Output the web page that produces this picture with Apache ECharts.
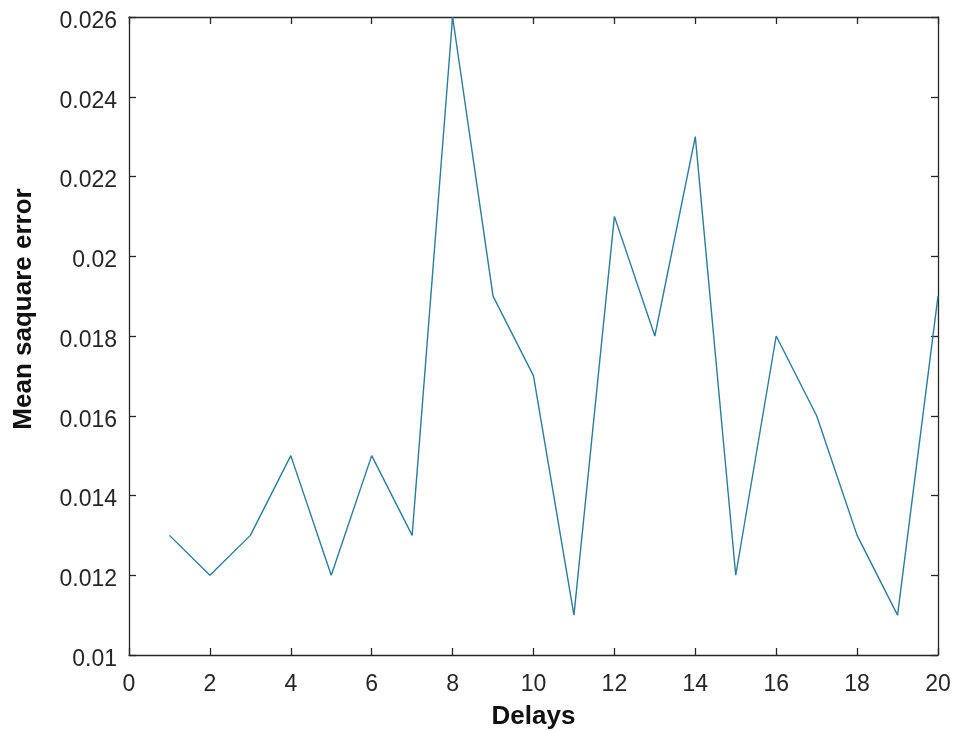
<!DOCTYPE html>
<html lang="en">
  <head>
    <meta charset="UTF-8" />
    <title>Mean square error vs delays</title>
    <style>
      body {
        margin: 0;
        background: #fff;
      }
      #chart {
        width: 953px;
        height: 731px;
      }
    </style>
  </head>
  <body>
    <div id="chart"></div>
    <script src="https://cdn.jsdelivr.net/npm/echarts@6/dist/echarts.min.js"></script>
    <script>
      const delays = [1, 2, 3, 4, 5, 6, 7, 8, 9, 10, 11, 12, 13, 14, 15, 16, 17, 18, 19, 20];
      const mse = [
        0.013, 0.012, 0.013, 0.015, 0.012, 0.015, 0.013, 0.026, 0.019, 0.017,
        0.011, 0.021, 0.018, 0.023, 0.012, 0.018, 0.016, 0.013, 0.011, 0.019,
      ];
      const xRange = [0, 20, 2];
      const yRange = [0.01, 0.026, 0.002];

      const font = "Liberation Sans, Arial, sans-serif";
      const lineStyle = { color: "#262626", width: 1.3 };
      const titleStyle = {
        color: "#111",
        fontSize: 26,
        fontWeight: "bold",
        fontFamily: font,
      };

      function xAxis(pos, labels) {
        return {
          type: "value",
          position: pos,
          min: xRange[0],
          max: xRange[1],
          interval: xRange[2],
          axisLine: { show: true, onZero: false, lineStyle },
          axisTick: { show: true, inside: true, length: 7, lineStyle },
          splitLine: { show: false },
          axisLabel: {
            show: labels,
            color: "#262626",
            fontSize: 23,
            fontFamily: font,
            margin: 18,
          },
          name: labels ? "Delays" : "",
          nameLocation: "middle",
          nameGap: 49,
          nameTextStyle: titleStyle,
        };
      }

      function yAxis(pos, labels) {
        return {
          type: "value",
          position: pos,
          min: yRange[0],
          max: yRange[1],
          interval: yRange[2],
          axisLine: { show: true, onZero: false, lineStyle },
          axisTick: { show: true, inside: true, length: 7, lineStyle },
          splitLine: { show: false },
          axisLabel: {
            show: labels,
            fontFamily: font,
            margin: 12,
            formatter: (v) => "{t|" + +v.toFixed(3) + "}",
            rich: {
              t: {
                color: "#262626",
                fontSize: 23,
                fontFamily: font,
                padding: [9, 0, 0, 0],
              },
            },
          },
          name: labels ? "Mean saquare error" : "",
          nameLocation: "middle",
          nameGap: 92,
          // title sits a bit above the axis centre in the original
          nameTextStyle: Object.assign({}, titleStyle, { padding: [0, 0, 0, 54] }),
        };
      }

      const chart = echarts.init(document.getElementById("chart"));
      chart.setOption({
        animation: false,
        backgroundColor: "#fff",
        grid: {
          left: 129,
          right: 15,
          top: 17,
          bottom: 76,
          containLabel: false,
          outerBoundsMode: "none",
        },
        xAxis: [xAxis("bottom", true), xAxis("top", false)],
        yAxis: [yAxis("left", true), yAxis("right", false)],
        series: [
          {
            type: "line",
            data: delays.map((d, i) => [d, mse[i]]),
            showSymbol: false,
            lineStyle: { color: "#2c7c9b", width: 1.4 },
          },
        ],
      });
    </script>
  </body>
</html>
